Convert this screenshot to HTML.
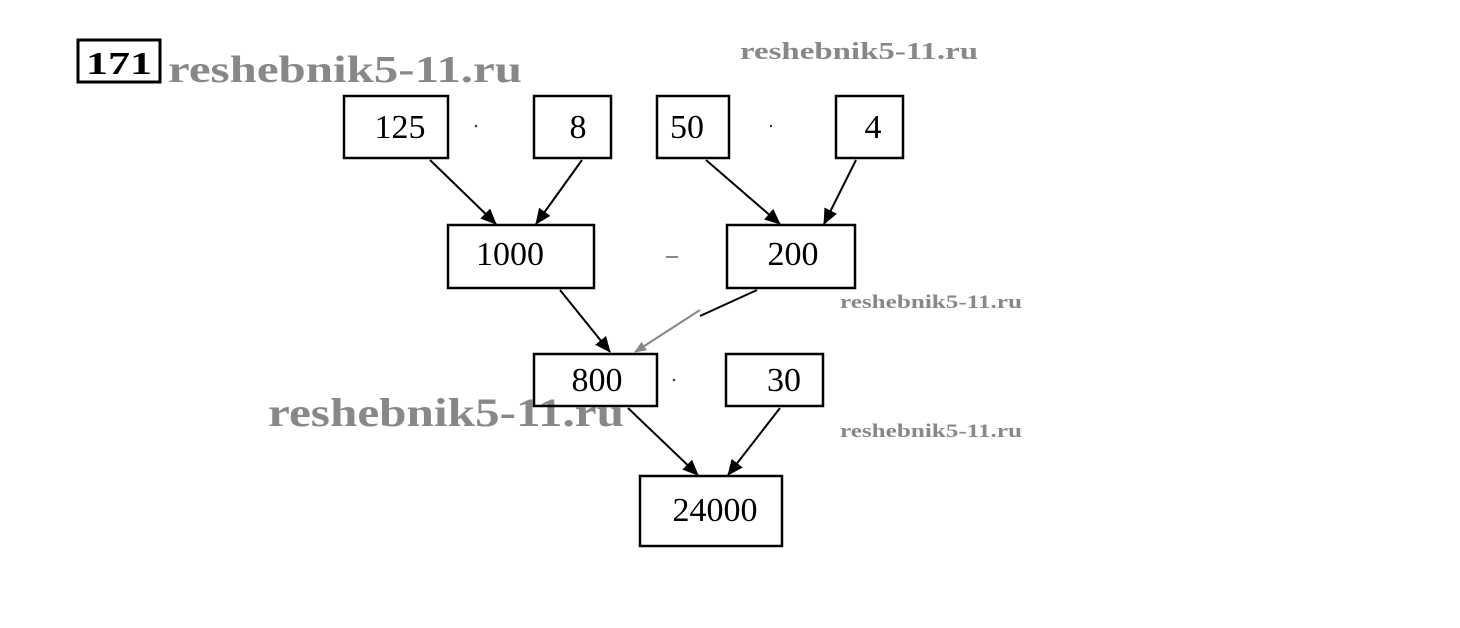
<!DOCTYPE html>
<html><head><style>body{margin:0;background:#fff;width:1460px;height:623px;overflow:hidden}</style></head><body>
<svg width="1460" height="623" xmlns="http://www.w3.org/2000/svg">
<defs><marker id="a" markerWidth="16" markerHeight="14" refX="15" refY="7" orient="auto" markerUnits="userSpaceOnUse"><path d="M0,0 L16,7 L0,14 Z" fill="#000"/></marker>
<marker id="g" markerWidth="12" markerHeight="10" refX="11" refY="5" orient="auto" markerUnits="userSpaceOnUse"><path d="M0,0 L12,5 L0,10 Z" fill="#888"/></marker></defs>
<rect x="78" y="40" width="82" height="42" fill="none" stroke="#000" stroke-width="3"/>
<text x="119" y="74" font-family="Liberation Serif" font-weight="bold" font-size="32" text-anchor="middle" textLength="66" lengthAdjust="spacingAndGlyphs">171</text>
<g font-family="Liberation Serif" font-weight="bold" fill="#888">
<text x="168" y="82" font-size="38" textLength="354" lengthAdjust="spacingAndGlyphs">reshebnik5-11.ru</text>
<text x="740" y="59" font-size="24" textLength="238" lengthAdjust="spacingAndGlyphs">reshebnik5-11.ru</text>
<text x="840" y="308" font-size="19" textLength="182" lengthAdjust="spacingAndGlyphs">reshebnik5-11.ru</text>
<text x="840" y="437" font-size="19" textLength="182" lengthAdjust="spacingAndGlyphs">reshebnik5-11.ru</text>
<text x="268" y="426" font-size="40" textLength="356" lengthAdjust="spacingAndGlyphs">reshebnik5-11.ru</text>
</g>
<g fill="none" stroke="#000" stroke-width="2.5">
<rect x="344" y="96" width="104" height="62"/><rect x="534" y="96" width="77" height="62"/>
<rect x="657" y="96" width="72" height="62"/><rect x="836" y="96" width="67" height="62"/>
<rect x="448" y="225" width="146" height="63"/><rect x="727" y="225" width="128" height="63"/>
<rect x="534" y="354" width="123" height="52"/><rect x="726" y="354" width="97" height="52"/>
<rect x="640" y="476" width="142" height="70"/>
</g>
<g stroke="#000" stroke-width="2">
<line x1="430" y1="160" x2="496" y2="224" marker-end="url(#a)"/>
<line x1="582" y1="160" x2="536" y2="224" marker-end="url(#a)"/>
<line x1="706" y1="160" x2="780" y2="224" marker-end="url(#a)"/>
<line x1="856" y1="160" x2="824" y2="224" marker-end="url(#a)"/>
<line x1="560" y1="290" x2="610" y2="352" marker-end="url(#a)"/>
<line x1="700" y1="310" x2="635" y2="352" stroke="#888" marker-end="url(#g)"/>
<line x1="757" y1="290" x2="700" y2="316"/>
<line x1="628" y1="408" x2="698" y2="475" marker-end="url(#a)"/>
<line x1="780" y1="408" x2="728" y2="475" marker-end="url(#a)"/>
</g>
<g font-family="Liberation Serif" font-size="34" text-anchor="middle">
<text x="400" y="138">125</text><text x="578" y="138">8</text><text x="687" y="138">50</text><text x="873" y="138">4</text>
<text x="510" y="265">1000</text><text x="793" y="265">200</text>
<text x="597" y="391">800</text><text x="784" y="391">30</text><text x="715" y="521">24000</text>
</g>
<circle cx="476" cy="126" r="1.2" fill="#333"/><circle cx="771" cy="126" r="1.2" fill="#333"/><circle cx="674" cy="380" r="1.2" fill="#333"/>
<line x1="666" y1="257" x2="678" y2="257" stroke="#888" stroke-width="2"/>
</svg>
</body></html>
